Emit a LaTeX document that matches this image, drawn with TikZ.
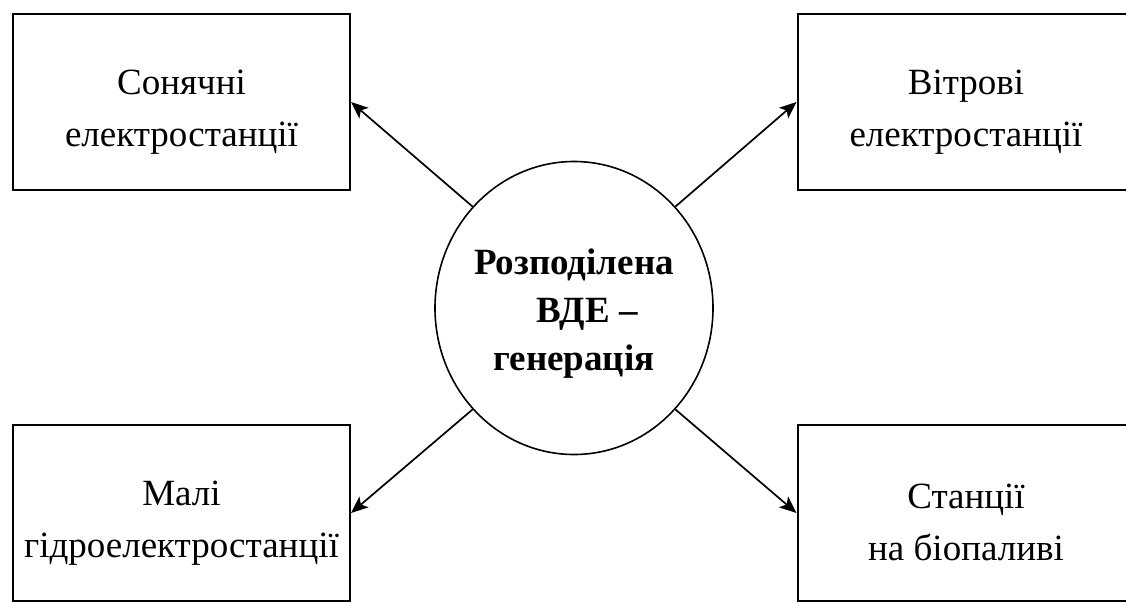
\documentclass[tikz,border=0pt]{standalone}
\usepackage{fontspec}
\setmainfont{Liberation Serif}
\usetikzlibrary{shapes.geometric,arrows.meta}
\begin{document}
\begin{tikzpicture}[x=1pt,y=-1pt,
  box/.style={draw=black,line width=2pt,minimum width=337pt,minimum height=176pt,inner sep=0pt},
  lbl/.style={align=center,font=\fontsize{37}{52}\selectfont,inner sep=0pt},
  hub/.style={draw=black,line width=1.6pt,ellipse,minimum width=278pt,minimum height=293pt,inner sep=0pt},
  hublbl/.style={align=center,font=\fontsize{37}{48}\selectfont\bfseries,inner sep=0pt},
  link/.style={line width=1.7pt,-{Stealth[length=17pt,width=14pt,inset=4pt]}}]
\useasboundingbox (0,0) rectangle (1126,603);
\fill[white] (0,0) rectangle (1126,603);
\clip (0,0) rectangle (1126,603);
\node[box] (tl) at (181.5,102) {};
\node[box] (tr) at (966,102) {};
\node[box] (bl) at (181.5,513) {};
\node[box] (br) at (966,513) {};
\node[lbl] (tlt) at ([yshift=-10pt]tl.center) {Сонячні\\електростанції};
\node[lbl] (trt) at ([yshift=-10pt]tr.center) {Вітрові\\електростанції};
\node[lbl] (blt) at ([yshift=-10pt]bl.center) {Малі\\гідроелектростанції};
\node[lbl] (brt) at ([yshift=-9pt]br.center) {Станції\\на біопаливі};
\node[hub] (c) at (574,308) {};
\node[hublbl] (ct) at ([yshift=-6pt]c.center) {Розподілена\\\hspace*{26pt}ВДЕ –\\генерація};
\draw[link] (c.135) -- (tl.east);
\draw[link] (c.45) -- (tr.west);
\draw[link] (c.225) -- (bl.east);
\draw[link] (c.315) -- (br.west);
\end{tikzpicture}
\end{document}
